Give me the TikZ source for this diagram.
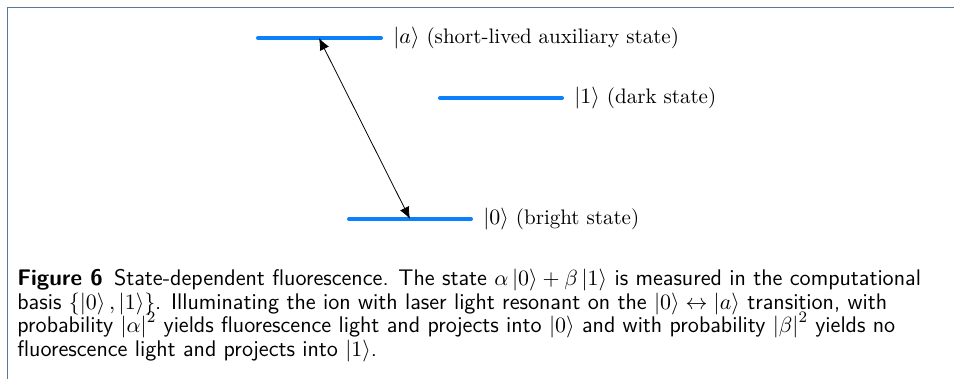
\documentclass[tikz,border=0pt]{standalone}
\usetikzlibrary{arrows.meta}
\definecolor{levelblue}{RGB}{10,128,250}
\definecolor{framecol}{RGB}{85,120,155}
\begin{document}
\begin{tikzpicture}[x=0.5pt,y=-0.5pt,
  level/.style={draw=levelblue,line width=2pt,line cap=round},
  lbl/.style={anchor=base west,inner sep=0pt,font=\fontsize{10.5}{12.6}\selectfont},
  capline/.style={anchor=base west,inner sep=0pt,text height=7.5pt,text depth=2.5pt,font=\sffamily\fontsize{11.3}{11.5}\selectfont},
  trans/.style={{Latex[length=6pt,width=5pt]}-{Latex[length=6pt,width=5pt]},line width=0.4pt}]
\useasboundingbox (0,0) rectangle (954,379);
\draw[framecol,line width=0.8pt] (7.5,379) -- (7.5,7.5) -- (954,7.5);
% levels
\coordinate (aL) at (258,38); \coordinate (aR) at (381,38);
\coordinate (oneL) at (440,98); \coordinate (oneR) at (562,98);
\coordinate (zeroL) at (349,219); \coordinate (zeroR) at (471,219);
\coordinate (aT) at (319,38); \coordinate (zT) at (410,219);
\draw[level] (aL) -- (aR);
\draw[level] (oneL) -- (oneR);
\draw[level] (zeroL) -- (zeroR);
\draw[trans] (aT) -- (zT);
\node[lbl] (la) at (393,43.5) {$|a\rangle$ (short-lived auxiliary state)};
\node[lbl] (l1) at (574,103.5) {$|1\rangle$ (dark state)};
\node[lbl] (l0) at (483,224.5) {$|0\rangle$ (bright state)};
% caption
\node[capline] (c1) at (17,286) {\textbf{Figure 6}\hspace{0.5em}State-dependent fluorescence. The state $\alpha\left|0\right\rangle + \beta\left|1\right\rangle$ is measured in the computational};
\node[capline] (c2) at (17,309.5) {basis $\left\{\left|0\right\rangle, \left|1\right\rangle\right\}$. Illuminating the ion with laser light resonant on the $\left|0\right\rangle \leftrightarrow \left|a\right\rangle$ transition, with};
\node[capline] (c3) at (17,333) {probability $\left|\alpha\right|^2$ yields fluorescence light and projects into $\left|0\right\rangle$ and with probability $\left|\beta\right|^2$ yields no};
\node[capline] (c4) at (17,356.5) {fluorescence light and projects into $\left|1\right\rangle$.};
\end{tikzpicture}
\end{document}
